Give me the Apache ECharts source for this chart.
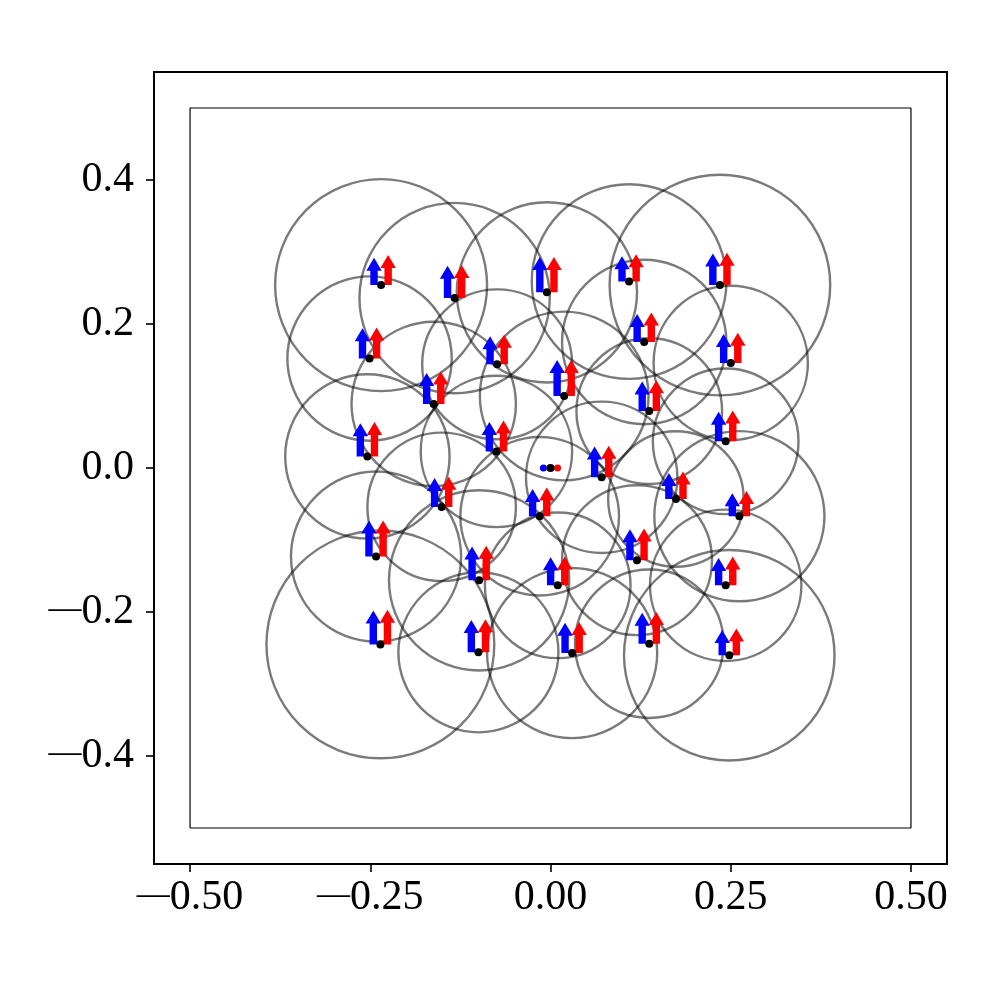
<!DOCTYPE html>
<html>
<head>
<meta charset="utf-8">
<title>Circles and arrows</title>
<script src="https://cdn.jsdelivr.net/npm/echarts@6/dist/echarts.min.js"></script>
<style>
  html, body { margin: 0; padding: 0; background: #fff; }
  #chart { width: 996px; height: 996px; }
</style>
</head>
<body>
<div id="chart"></div>
<script>
// point positions (centres of the circles)
const ptX = [-0.235, -0.133, -0.005, 0.109, 0.235,
             -0.251, 0.130, 0.250, -0.074, 0.019, -0.162, 0.137,
             -0.254, -0.075, 0.243, 0.000, 0.071,
             -0.151, -0.015, 0.174, 0.262,
             -0.242, -0.099, 0.010, 0.120, 0.243,
             -0.236, -0.100, 0.030, 0.137, 0.248];
const ptY = [0.254, 0.236, 0.244, 0.259, 0.254,
             0.152, 0.175, 0.146, 0.144, 0.100, 0.089, 0.079,
             0.016, 0.023, 0.037, 0.000, -0.013,
             -0.054, -0.067, -0.043, -0.067,
             -0.123, -0.156, -0.163, -0.128, -0.163,
             -0.245, -0.256, -0.257, -0.244, -0.260];
// circle radii (data units)
const radius = [0.147, 0.132, 0.125, 0.135, 0.153,
                0.114, 0.114, 0.107, 0.104, 0.117, 0.114, 0.101,
                0.114, 0.105, 0.101, 0.000, 0.105,
                0.103, 0.110, 0.094, 0.118,
                0.118, 0.125, 0.101, 0.104, 0.105,
                0.158, 0.111, 0.118, 0.103, 0.146];
// arrow lengths (data units, pointing up)
const blueLen = [0.038, 0.045, 0.049, 0.035, 0.044,
                 0.042, 0.039, 0.040, 0.039, 0.050, 0.043, 0.041,
                 0.046, 0.041, 0.041, 0.000, 0.043,
                 0.040, 0.038, 0.036, 0.032,
                 0.050, 0.047, 0.039, 0.043, 0.038,
                 0.047, 0.045, 0.042, 0.043, 0.035];
const redLen = [0.042, 0.046, 0.049, 0.038, 0.045,
                0.043, 0.041, 0.042, 0.041, 0.050, 0.045, 0.043,
                0.048, 0.043, 0.043, 0.000, 0.044,
                0.042, 0.040, 0.038, 0.035,
                0.050, 0.048, 0.040, 0.044, 0.040,
                0.048, 0.046, 0.043, 0.044, 0.037];
const arrowOffset = 0.0098;

const boxX = [-0.5, 0.5, 0.5, -0.5, -0.5];
const boxY = [-0.5, -0.5, 0.5, 0.5, -0.5];

const xTicks = [-0.5, -0.25, 0, 0.25, 0.5];
const yTicks = [-0.4, -0.2, 0, 0.2, 0.4];

// long thin minus like the TeX one
const fmt = (v, d) => (v < 0 ? '{m|\u2014}' : '') + Math.abs(v).toFixed(d);

const circleData = ptX.map((x, i) => [x, ptY[i], radius[i]]);
const blueData = ptX.map((x, i) => [x - arrowOffset, ptY[i], blueLen[i]]);
const redData = ptX.map((x, i) => [x + arrowOffset, ptY[i], redLen[i]]);
const dotData = ptX.map((x, i) => [x, ptY[i]]);

function renderCircle(params, api) {
  const c = api.coord([api.value(0), api.value(1)]);
  const r = api.size([api.value(2), 0])[0];
  if (!r) return null;
  return {
    type: 'circle',
    shape: { cx: c[0], cy: c[1], r: r },
    style: { fill: 'none', stroke: 'rgba(0,0,0,0.52)', lineWidth: 2.4 }
  };
}

function arrowRenderer(color) {
  return function (params, api) {
    const x = api.value(0), y = api.value(1), L = api.value(2);
    const t = api.coord([x, y]);
    const h = api.coord([x, y + L]);
    const len = t[1] - h[1];
    if (len < 1) {
      return { type: 'circle', shape: { cx: t[0], cy: t[1], r: 3.5 }, style: { fill: color } };
    }
    const sw = 3.7, hw = 7.7, hl = Math.min(13, len);
    const sx = t[0];
    return {
      type: 'polygon',
      shape: {
        points: [
          [sx - sw, t[1]], [sx + sw, t[1]], [sx + sw, h[1] + hl],
          [sx + hw, h[1] + hl], [sx, h[1]], [sx - hw, h[1] + hl], [sx - sw, h[1] + hl]
        ]
      },
      style: { fill: color }
    };
  };
}

const chart = echarts.init(document.getElementById('chart'));
const labelFont = {
  fontFamily: 'Liberation Serif', fontSize: 42, color: '#000',
  rich: { m: { fontFamily: 'Liberation Serif', fontSize: 33, color: '#000', padding: [0, 0, 5, 0] } }
};

chart.setOption({
  animation: false,
  backgroundColor: '#fff',
  grid: {
    left: 154, right: 49, top: 72, bottom: 132,
    show: true, borderColor: '#000', borderWidth: 2, backgroundColor: 'transparent'
  },
  xAxis: {
    type: 'value', min: -0.55, max: 0.55,
    axisLine: { show: true, onZero: false, lineStyle: { color: '#000', width: 2 } },
    axisTick: { show: true, length: 8, customValues: xTicks, lineStyle: { color: '#000', width: 1.6 } },
    axisLabel: Object.assign({ margin: 13, customValues: xTicks, formatter: v => fmt(v, 2) }, labelFont),
    splitLine: { show: false }
  },
  yAxis: {
    type: 'value', min: -0.55, max: 0.55,
    axisLine: { show: true, onZero: false, lineStyle: { color: '#000', width: 2 } },
    axisTick: { show: true, length: 8, customValues: yTicks, lineStyle: { color: '#000', width: 1.6 } },
    axisLabel: Object.assign({ margin: 20, customValues: yTicks, formatter: v => fmt(v, 1) }, labelFont),
    splitLine: { show: false }
  },
  series: [
    {
      type: 'line',
      data: boxX.map((x, i) => [x, boxY[i]]),
      symbol: 'none',
      lineStyle: { color: '#000', width: 1.2 },
      silent: true
    },
    {
      type: 'custom',
      renderItem: renderCircle,
      data: circleData,
      silent: true
    },
    {
      type: 'custom',
      renderItem: arrowRenderer('#0000ff'),
      data: blueData,
      silent: true
    },
    {
      type: 'custom',
      renderItem: arrowRenderer('#ff0000'),
      data: redData,
      silent: true
    },
    {
      type: 'scatter',
      data: dotData,
      symbolSize: 8,
      itemStyle: { color: '#000', opacity: 1 },
      silent: true
    }
  ]
});
</script>
</body>
</html>
